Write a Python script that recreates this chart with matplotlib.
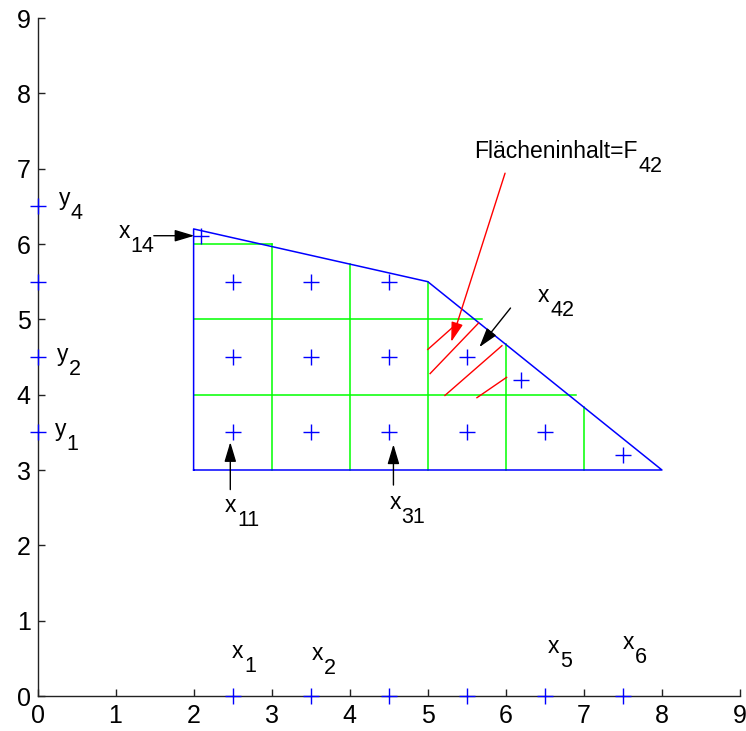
import matplotlib
matplotlib.use("Agg")
import matplotlib.pyplot as plt

plt.rcParams['font.family'] = ['Liberation Sans', 'DejaVu Sans']
TICK_FS, MAIN_FS, SUB_FS = 18, 16.5, 15.5

# --- data -------------------------------------------------------------
poly_x = [2, 2, 5, 8, 2]
poly_y = [3, 6.2, 5.5, 3, 3]

grid_h_y = [6, 5, 4]
grid_h_xmax = [3, 5.69, 6.9]
grid_v_x = [3, 4, 5, 6, 7]
grid_v_ymax = [6, 5.73, 5.5, 4.67, 3.83]

cell_px = [2.5, 3.5, 4.5, 2.5, 3.5, 4.5, 5.5, 6.2, 2.5, 3.5, 4.5, 5.5, 6.5, 7.5, 2.1]
cell_py = [5.5, 5.5, 5.5, 4.5, 4.5, 4.5, 4.5, 4.2, 3.5, 3.5, 3.5, 3.5, 3.5, 3.2, 6.1]

xaxis_pts = [2.5, 3.5, 4.5, 5.5, 6.5, 7.5]
yaxis_pts = [3.5, 4.5, 5.5, 6.5]

hatch_x0 = [5.0, 5.03, 5.22, 5.63]
hatch_y0 = [4.6, 4.28, 3.99, 3.96]
hatch_x1 = [5.38, 5.65, 5.95, 6.01]
hatch_y1 = [4.95, 4.95, 4.65, 4.23]

# labels: (base, sub, x, y) -> baseline position of base letter
lbl_base = ['y', 'y', 'y', 'x', 'x', 'x', 'x', 'x', 'x', 'x', 'x', 'Flächeninhalt=F']
lbl_sub = ['4', '2', '1', '14', '11', '31', '42', '1', '2', '5', '6', '42']
lbl_x = [0.27, 0.25, 0.22, 1.04, 2.4, 4.51, 6.41, 2.49, 3.51, 6.54, 7.5, 5.6]
lbl_y = [6.52, 4.45, 3.45, 6.085, 2.44, 2.48, 5.23, 0.51, 0.48, 0.57, 0.63, 7.14]

# arrows: tail -> tip
arr_x0 = [1.49, 2.47, 4.56, 6.06, 5.99]
arr_y0 = [6.11, 2.74, 2.80, 5.15, 6.94]
arr_x1 = [2.01, 2.47, 4.56, 5.66, 5.30]
arr_y1 = [6.11, 3.37, 3.34, 4.63, 4.70]
arr_col = ['k', 'k', 'k', 'k', 'r']

ticks = list(range(10))

# --- figure -----------------------------------------------------------
fig = plt.figure(figsize=(7.46, 7.31), dpi=100)
ax = fig.add_axes([37.5 / 746, 35 / 731, 702.5 / 746, 678 / 731])
ax.set_xlim(0, 9)
ax.set_ylim(0, 9)
ax.set_xticks(ticks)
ax.set_yticks(ticks)
ax.spines['top'].set_visible(False)
ax.spines['right'].set_visible(False)
for s in ('left', 'bottom'):
    ax.spines[s].set_linewidth(1.0)
    ax.spines[s].set_color('#222222')
ax.tick_params(axis='both', direction='in', length=5, width=1.0,
               color='#222222', labelsize=TICK_FS)
ax.tick_params(axis='x', pad=6)
ax.tick_params(axis='y', pad=5)

green = (0, 1, 0)
for y, xm in zip(grid_h_y, grid_h_xmax):
    ax.plot([2, xm], [y, y], color=green, lw=1.1)
for x, ym in zip(grid_v_x, grid_v_ymax):
    ax.plot([x, x], [3, ym], color=green, lw=1.1)

ax.plot(poly_x, poly_y, color='blue', lw=1.1)

for x0, y0, x1, y1 in zip(hatch_x0, hatch_y0, hatch_x1, hatch_y1):
    ax.plot([x0, x1], [y0, y1], color='red', lw=1)

ax.plot(cell_px, cell_py, '+', color='blue', ms=11, mew=1)
ax.plot(xaxis_pts, [0] * len(xaxis_pts), '+', color='blue', ms=11, mew=1,
        clip_on=False, zorder=5)
ax.plot([0] * len(yaxis_pts), yaxis_pts, '+', color='blue', ms=11, mew=1,
        clip_on=False, zorder=5)

for x0, y0, x1, y1, c in zip(arr_x0, arr_y0, arr_x1, arr_y1, arr_col):
    ax.annotate('', xy=(x1, y1), xytext=(x0, y0),
                arrowprops=dict(arrowstyle='-|>,head_length=0.6,head_width=0.18',
                                color=c, lw=1, shrinkA=0, shrinkB=0,
                                mutation_scale=20))

for b, s, x, y in zip(lbl_base, lbl_sub, lbl_x, lbl_y):
    t = ax.text(x, y, b, fontsize=MAIN_FS, ha='left', va='baseline')
    ax.annotate(s, xy=(1, 0), xycoords=t, xytext=(0.5, -6.5),
                textcoords='offset points', fontsize=SUB_FS,
                ha='left', va='baseline')

fig.savefig('out.png', dpi=100)
